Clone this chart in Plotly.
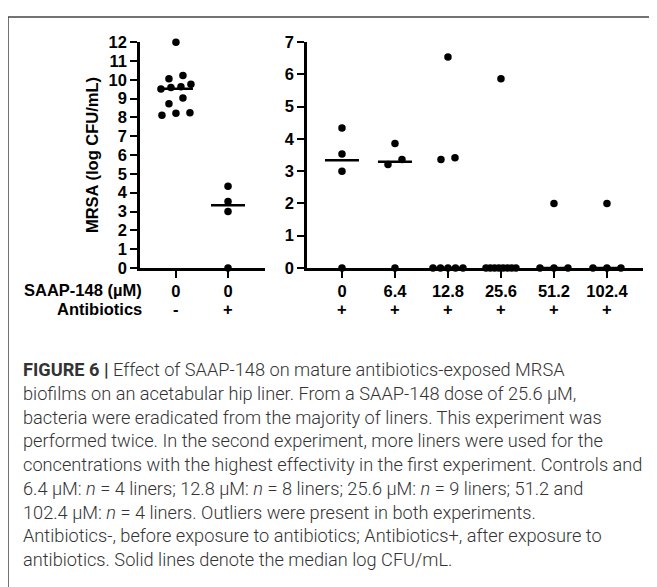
import numpy as np
import plotly.graph_objects as go

# ---------------- data ----------------
left_categories = ["0", "0"]
left_antibiotics = ["-", "+"]
left_values = [
    [12.0, 10.23, 10.06, 9.76, 9.63, 9.59, 9.51, 9.03, 8.73, 8.25, 8.22, 8.11],
    [4.34, 3.53, 3.0, 0.0],
]
left_medians = [9.52, 3.33]

right_categories = ["0", "6.4", "12.8", "25.6", "51.2", "102.4"]
right_antibiotics = ["+", "+", "+", "+", "+", "+"]
right_values = [
    [4.34, 3.53, 3.0, 0.0],
    [3.86, 3.36, 3.21, 0.0],
    [6.54, 3.42, 3.36, 0.0, 0.0, 0.0, 0.0, 0.0],
    [5.87, 0.0, 0.0, 0.0, 0.0, 0.0, 0.0, 0.0, 0.0],
    [2.0, 0.0, 0.0, 0.0],
    [2.0, 0.0, 0.0, 0.0],
]
right_medians = [3.34, 3.29, 0.0, 0.0, 0.0, 0.0]

y_title = "MRSA (log CFU/mL)"
row1_header = "SAAP-148 (µM)"
row2_header = "Antibiotics"

caption_lines = [
    "<b>FIGURE 6 |</b> Effect of SAAP-148 on mature antibiotics-exposed MRSA",
    "biofilms on an acetabular hip liner. From a SAAP-148 dose of 25.6 μM,",
    "bacteria were eradicated from the majority of liners. This experiment was",
    "performed twice. In the second experiment, more liners were used for the",
    "concentrations with the highest effectivity in the first experiment. Controls and",
    "6.4 μM: <i>n</i> = 4 liners; 12.8 μM: <i>n</i> = 8 liners; 25.6 μM: <i>n</i> = 9 liners; 51.2 and",
    "102.4 μM: <i>n</i> = 4 liners. Outliers were present in both experiments.",
    "Antibiotics-, before exposure to antibiotics; Antibiotics+, after exposure to",
    "antibiotics. Solid lines denote the median log CFU/mL.",
]

# ---------------- layout constants (window pixels) ----------------
PAGE_OFF = 8                     # default page margin around the figure div
W, H = 657 - PAGE_OFF, 587 - PAGE_OFF
PLOT_TOP, PLOT_BOTTOM = 34, 267
LEFT_X = (140, 265)
RIGHT_X = (307, 643)
LEFT_RANGE = [-0.69, 1.71]
RIGHT_RANGE = [-0.66, 5.68]
LEFT_YMAX, RIGHT_YMAX = 12, 7
DOT = 7.5
BOLD = dict(family="Liberation Sans", size=16.5, color="black", weight="bold")


def px_x(p):
    return (p - PAGE_OFF) / W


def px_y(p):
    return 1 - (p - PAGE_OFF) / H


def swarm(vals, py, px, row_px=7.0, max_sp=14.0, width=30.0):
    """Simple column-scatter layout: points close in value share a row and are spread."""
    vals = np.asarray(vals, dtype=float)
    order = np.argsort(vals, kind="stable")
    rows = []
    for idx in order:
        if rows and (vals[idx] - vals[rows[-1][0]]) * py < row_px:
            rows[-1].append(idx)
        else:
            rows.append([idx])
    off = np.zeros(len(vals))
    for row in rows:
        n = len(row)
        if n == 1:
            continue
        sp = min(max_sp, width / (n - 1))
        for k, idx in enumerate(row):
            off[idx] = (k - (n - 1) / 2) * sp / px
    return off


fig = go.Figure()


def add_panel(values, medians, xref, yref, xpx, xrange, ymax):
    px_per_x = (xpx[1] - xpx[0]) / (xrange[1] - xrange[0])
    px_per_y = (PLOT_BOTTOM - PLOT_TOP) / ymax
    half = 17.0 / px_per_x
    for i, (vals, med) in enumerate(zip(values, medians)):
        off = swarm(vals, px_per_y, px_per_x)
        fig.add_trace(go.Scatter(
            x=i + off, y=vals, mode="markers", xaxis=xref, yaxis=yref,
            marker=dict(color="black", size=DOT, line=dict(width=0)),
            cliponaxis=False, showlegend=False, hoverinfo="skip"))
        fig.add_trace(go.Scatter(
            x=[i - half, i + half], y=[med, med], mode="lines", xaxis=xref, yaxis=yref,
            line=dict(color="black", width=2.5),
            cliponaxis=False, showlegend=False, hoverinfo="skip"))


add_panel(left_values, left_medians, "x", "y", LEFT_X, LEFT_RANGE, LEFT_YMAX)
add_panel(right_values, right_medians, "x2", "y2", RIGHT_X, RIGHT_RANGE, RIGHT_YMAX)

axis_common = dict(
    showline=True, linewidth=2.5, linecolor="black", ticks="outside", ticklen=7,
    tickwidth=2, tickcolor="black", showgrid=False, zeroline=False,
    tickfont=BOLD, layer="below traces", fixedrange=True,
)
ydom = [px_y(PLOT_BOTTOM), px_y(PLOT_TOP)]

fig.update_layout(
    width=W, height=H, margin=dict(l=0, r=0, t=0, b=0),
    paper_bgcolor="white", plot_bgcolor="white",
    font=dict(family="Liberation Sans"),
    xaxis=dict(domain=[px_x(LEFT_X[0]), px_x(LEFT_X[1])], range=LEFT_RANGE, anchor="y",
               tickmode="array", tickvals=list(range(len(left_categories))),
               ticktext=left_categories, **axis_common),
    yaxis=dict(domain=ydom, range=[0, LEFT_YMAX], anchor="x", tickmode="linear",
               tick0=0, dtick=1, **axis_common),
    xaxis2=dict(domain=[px_x(RIGHT_X[0]), px_x(RIGHT_X[1])], range=RIGHT_RANGE, anchor="y2",
                tickmode="array", tickvals=list(range(len(right_categories))),
                ticktext=right_categories, **axis_common),
    yaxis2=dict(domain=ydom, range=[0, RIGHT_YMAX], anchor="x2", tickmode="linear",
                tick0=0, dtick=1, **axis_common),
)

ann = []
ann.append(dict(text=y_title, x=px_x(92), y=px_y((PLOT_TOP + PLOT_BOTTOM) / 2),
                xref="paper", yref="paper", textangle=-90, showarrow=False,
                xanchor="center", yanchor="middle", font=BOLD))
ann.append(dict(text=row1_header, x=px_x(144), y=px_y(290), xref="paper", yref="paper",
                showarrow=False, xanchor="right", yanchor="middle", font=BOLD))
ann.append(dict(text=row2_header, x=px_x(144), y=px_y(309), xref="paper", yref="paper",
                showarrow=False, xanchor="right", yanchor="middle", font=BOLD))
for i, t in enumerate(left_antibiotics):
    ann.append(dict(text=t, x=i, xref="x", y=px_y(309), yref="paper", showarrow=False,
                    xanchor="center", yanchor="middle", font=BOLD))
for i, t in enumerate(right_antibiotics):
    ann.append(dict(text=t, x=i, xref="x2", y=px_y(309), yref="paper", showarrow=False,
                    xanchor="center", yanchor="middle", font=BOLD))

CAP_FONT = dict(family="Roboto", size=18.2, color="#333333", weight=300)
for k, line in enumerate(caption_lines):
    ann.append(dict(text=line, x=px_x(21), y=px_y(372 + 24.5 * k), xref="paper", yref="paper",
                    showarrow=False, xanchor="left", yanchor="middle", font=CAP_FONT))
fig.update_layout(annotations=ann)

# frame around the figure (left and top edges visible)
fig.add_shape(type="line", xref="paper", yref="paper", x0=px_x(8), x1=1.05, y0=px_y(8), y1=px_y(8),
              line=dict(color="#444444", width=1.5))
fig.add_shape(type="line", xref="paper", yref="paper", x0=px_x(8), x1=px_x(8), y0=px_y(8), y1=-0.05,
              line=dict(color="#444444", width=1.5))

fig.write_html("out.html")
